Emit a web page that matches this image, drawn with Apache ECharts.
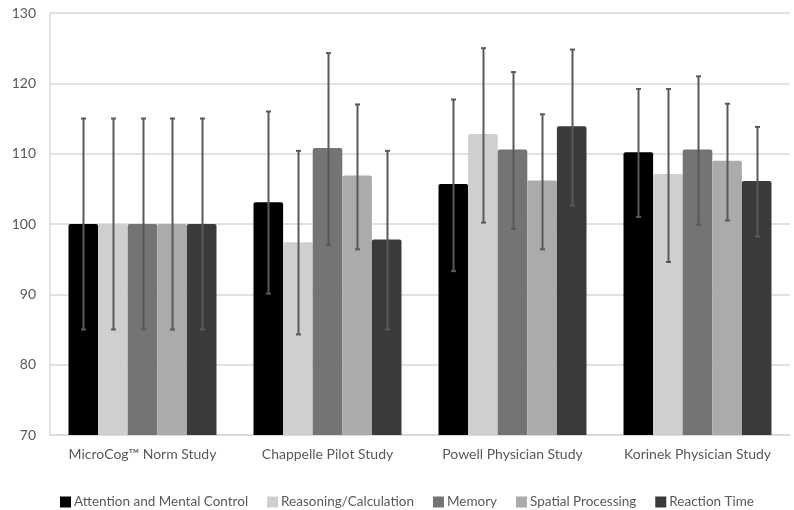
<!DOCTYPE html>
<html>
<head>
<meta charset="utf-8">
<script src="https://cdn.jsdelivr.net/npm/echarts@6/dist/echarts.min.js"></script>
<style>
  html, body { margin: 0; padding: 0; background: #fff; }
  #chart { width: 794px; height: 510px; }
</style>
</head>
<body>
<div id="chart"></div>
<script>
  // categories and series
  const studies = ['MicroCog™ Norm Study', 'Chappelle Pilot Study', 'Powell Physician Study', 'Korinek Physician Study']
  const seriesNames = ['Attention and Mental Control', 'Reasoning/Calculation', 'Memory', 'Spatial Processing', 'Reaction Time']
  const colors = ['#000000', '#cfcfcf', '#747474', '#ababab', '#3a3a3a']

  // means
  const attention = [100, 103.1, 105.7, 110.2]
  const reasoning = [100, 97.4, 112.8, 107.1]
  const memory = [100, 110.8, 110.6, 110.6]
  const spatial = [100, 106.9, 106.2, 109.0]
  const reaction = [100, 97.8, 113.9, 106.1]

  // error bar ends
  const attentionLow = [85, 90.1, 93.3, 101.0]
  const attentionHigh = [115, 116.0, 117.7, 119.2]
  const reasoningLow = [85, 84.3, 100.2, 94.6]
  const reasoningHigh = [115, 110.4, 125.0, 119.2]
  const memoryLow = [85, 97.0, 99.3, 99.9]
  const memoryHigh = [115, 124.3, 121.6, 121.0]
  const spatialLow = [85, 96.4, 96.4, 100.5]
  const spatialHigh = [115, 117.0, 115.6, 117.1]
  const reactionLow = [85, 85.0, 102.6, 98.2]
  const reactionHigh = [115, 110.4, 124.8, 113.8]

  const yTicks = { min: 70, max: 130, interval: 10 }

  const means = [attention, reasoning, memory, spatial, reaction]
  const lows = [attentionLow, reasoningLow, memoryLow, spatialLow, reactionLow]
  const highs = [attentionHigh, reasoningHigh, memoryHigh, spatialHigh, reactionHigh]

  const font = 'Lato, "Open Sans", sans-serif'
  const errColor = '#595959'

  function errorSeries (idx) {
    return {
      type: 'custom',
      name: 'err' + idx,
      z: 10,
      silent: true,
      encode: { x: 0, y: [1, 2] },
      data: lows[idx].map((l, i) => [i, l, highs[idx][i]]),
      renderItem: function (params, api) {
        const band = api.size([1, 0])[0]
        const barW = band * 0.8 / 5
        const off = (idx - 2) * barW
        const lo = api.coord([api.value(0), api.value(1)])
        const hi = api.coord([api.value(0), api.value(2)])
        const x = Math.round(lo[0] + off) + 0.5
        const style = { stroke: errColor, lineWidth: 2 }
        return {
          type: 'group',
          children: [
            { type: 'line', shape: { x1: x, y1: lo[1], x2: x, y2: hi[1] }, style: style },
            { type: 'line', shape: { x1: x - 2.5, y1: lo[1], x2: x + 2.5, y2: lo[1] }, style: style },
            { type: 'line', shape: { x1: x - 2.5, y1: hi[1], x2: x + 2.5, y2: hi[1] }, style: style }
          ]
        }
      }
    }
  }

  const barSeries = seriesNames.map((name, i) => ({
    type: 'bar',
    name: name,
    data: means[i],
    barGap: '0%',
    barCategoryGap: '20%',
    itemStyle: { color: colors[i], borderRadius: [2, 2, 0, 0] }
  }))

  const chart = echarts.init(document.getElementById('chart'))
  chart.setOption({
    backgroundColor: '#fff',
    animation: false,
    color: colors,
    textStyle: { fontFamily: font },
    grid: { left: 50, right: 4, top: 13, bottom: 75, containLabel: false },
    legend: {
      data: seriesNames,
      left: 55,
      top: 490,
      icon: 'rect',
      itemWidth: 11,
      itemHeight: 11,
      itemGap: 19,
      textStyle: { color: '#595959', fontSize: 13.5, fontFamily: font, padding: [0, 0, 0, -2] }
    },
    xAxis: {
      type: 'category',
      data: studies,
      axisLine: { show: true, lineStyle: { color: '#d9d9d9', width: 1.5 } },
      axisTick: { show: false },
      axisLabel: { color: '#595959', fontSize: 14, margin: 12, fontFamily: font, interval: 0 }
    },
    yAxis: {
      type: 'value',
      min: yTicks.min,
      max: yTicks.max,
      interval: yTicks.interval,
      axisLine: { show: true, lineStyle: { color: '#d9d9d9', width: 1.5 } },
      axisTick: { show: false },
      axisLabel: { color: '#595959', fontSize: 14, margin: 14, fontFamily: font },
      splitLine: { show: true, lineStyle: { color: '#d9d9d9', width: 1.5 } }
    },
    series: barSeries.concat(seriesNames.map((n, i) => errorSeries(i)))
  })
</script>
</body>
</html>
